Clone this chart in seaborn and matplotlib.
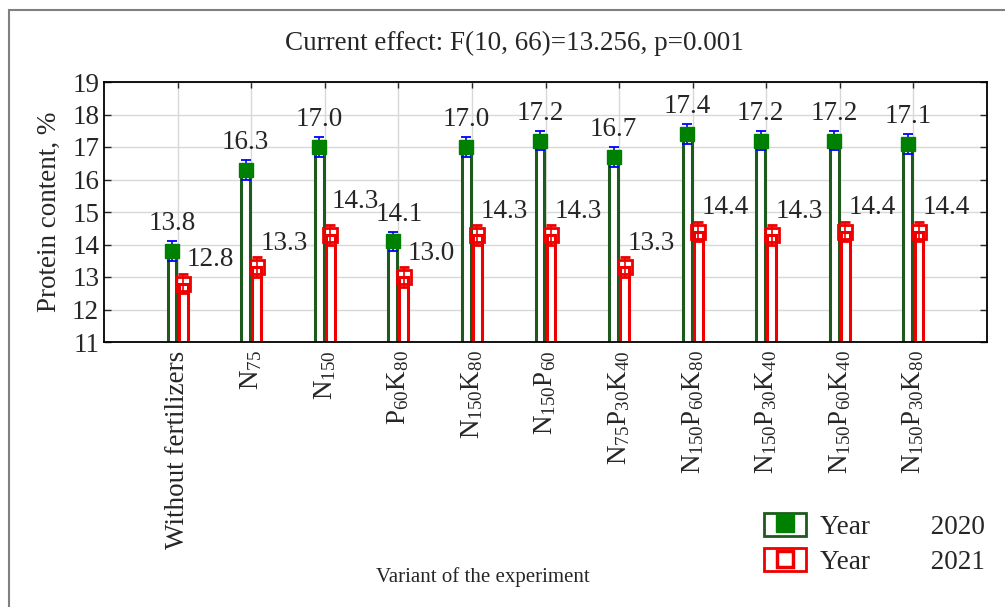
import numpy as np
import pandas as pd
import matplotlib
matplotlib.use("Agg")
import matplotlib.pyplot as plt
from matplotlib.patches import Rectangle, Patch
from matplotlib.lines import Line2D
from matplotlib.legend_handler import HandlerTuple
import seaborn as sns

# ---- data ----
variants = ["Without fertilizers", r"N$_{75}$", r"N$_{150}$", r"P$_{60}$K$_{80}$",
            r"N$_{150}$K$_{80}$", r"N$_{150}$P$_{60}$", r"N$_{75}$P$_{30}$K$_{40}$",
            r"N$_{150}$P$_{60}$K$_{80}$", r"N$_{150}$P$_{30}$K$_{40}$",
            r"N$_{150}$P$_{60}$K$_{40}$", r"N$_{150}$P$_{30}$K$_{80}$"]
protein_2020 = [13.8, 16.3, 17.0, 14.1, 17.0, 17.2, 16.7, 17.4, 17.2, 17.2, 17.1]
protein_2021 = [12.8, 13.3, 14.3, 13.0, 14.3, 14.3, 13.3, 14.4, 14.3, 14.4, 14.4]
err_2020 = [0.3] * 11
err_2021 = [0.3] * 11
years = ["2020", "2021"]
title_text = "Current effect: F(10, 66)=13.256, p=0.001"

# label placement nudges (points), layout only
green_nudge = {3: (4.5, 0)}
red_nudge = {2: (-1.5, 7)}

sns.set_style("white")
plt.rcParams["font.family"] = ["Liberation Serif", "DejaVu Serif"]
plt.rcParams["mathtext.fontset"] = "custom"
plt.rcParams["mathtext.rm"] = "Liberation Serif"
plt.rcParams["mathtext.it"] = "Liberation Serif"
plt.rcParams["mathtext.default"] = "rm"

GREEN_EDGE = "#1e5a1e"
GREEN = "#008000"
RED = "#ee0000"
FS = 19.5

df = pd.DataFrame({
    "variant": variants * 2,
    "value": protein_2020 + protein_2021,
    "year": [years[0]] * 11 + [years[1]] * 11,
})

fig = plt.figure(figsize=(10.05, 6.07), dpi=100)
ax = fig.add_axes([104 / 1005, 1 - 342 / 607, (987 - 104) / 1005, (342 - 82) / 607])

sns.barplot(data=df, x="variant", y="value", hue="year", order=variants,
            hue_order=years, palette={years[0]: GREEN_EDGE, years[1]: RED},
            width=0.3, gap=0.2, fill=False, linewidth=2.2, errorbar=None,
            legend=False, ax=ax, zorder=2)
for p in ax.patches:
    p.set_facecolor("white")

xpos = np.arange(len(variants))
off = 0.075
ax.errorbar(xpos - off, protein_2020, yerr=err_2020, fmt="s", ms=10.5,
            mfc=GREEN, mec=GREEN, ecolor="blue", elinewidth=1.2, capsize=3.3,
            capthick=1.3, zorder=4)
ax.errorbar(xpos + off, protein_2021, yerr=err_2021, fmt="s", ms=10.5,
            mfc="none", mec=RED, mew=2, ecolor=RED, elinewidth=1.2, capsize=3.3,
            capthick=1.3, zorder=4)

for i, (x, v) in enumerate(zip(xpos - off, protein_2020)):
    dx, dy = green_nudge.get(i, (0, 0))
    ax.annotate(f"{v:.1f}", (x, v), xytext=(0 + dx, 19.5 + dy), textcoords="offset points",
                ha="center", va="center", fontsize=FS, zorder=5)
for i, (x, v) in enumerate(zip(xpos + off, protein_2021)):
    dx, dy = red_nudge.get(i, (0, 0))
    ax.annotate(f"{v:.1f}", (x, v), xytext=(2.5 + dx, 17 + dy), textcoords="offset points",
                ha="left", va="center", fontsize=FS, zorder=5)

ax.set_xlim(-1, 11)
ax.set_ylim(11, 19)
ax.set_yticks(range(11, 20))
ax.set_xticks(xpos)
ax.set_xticklabels(variants, rotation=90, fontsize=FS, va="top")
ax.tick_params(axis="y", labelsize=FS, direction="in", length=5, left=True, right=True, width=1)
ax.tick_params(axis="x", direction="in", length=4, top=True, bottom=False, width=1, pad=6)
ax.grid(True, color="#d8d8d8", linewidth=1)
ax.set_axisbelow(True)
for s in ax.spines.values():
    s.set_color("black")
    s.set_linewidth(1.3)
ax.set_xlabel("")
ax.set_ylabel("Protein content, %", fontsize=FS, labelpad=7)

fig.text(514 / 1005, 1 - 43 / 607, title_text, ha="center", va="center", fontsize=19.5)
fig.text(483 / 1005, 1 - 577 / 607, "Variant of the experiment", ha="center",
         va="center", fontsize=15)

# legend
h1 = (Patch(facecolor="white", edgecolor=GREEN_EDGE, linewidth=2),
      Line2D([], [], marker="s", ls="none", ms=13, mfc=GREEN, mec=GREEN))
h2 = (Patch(facecolor="white", edgecolor=RED, linewidth=2),
      Line2D([], [], marker="s", ls="none", ms=11, mfc="none", mec=RED, mew=2.5))
fig.legend([h1, h2], ["Year         2020", "Year         2021"],
           handler_map={tuple: HandlerTuple(ndivide=1)},
           loc="center left", bbox_to_anchor=(764 / 1005, 1 - 544 / 607),
           fontsize=FS, frameon=False, handlelength=1.55, handleheight=0.95,
           handletextpad=0.5, labelspacing=0.3, borderpad=0, borderaxespad=0)

# outer frame
fig.patches.append(Rectangle((9 / 1005, -0.05), 1.2, 1.05 - 10 / 607,
                             transform=fig.transFigure, fill=False,
                             edgecolor="#808080", linewidth=1.5))

fig.savefig("out.png", dpi=100)
